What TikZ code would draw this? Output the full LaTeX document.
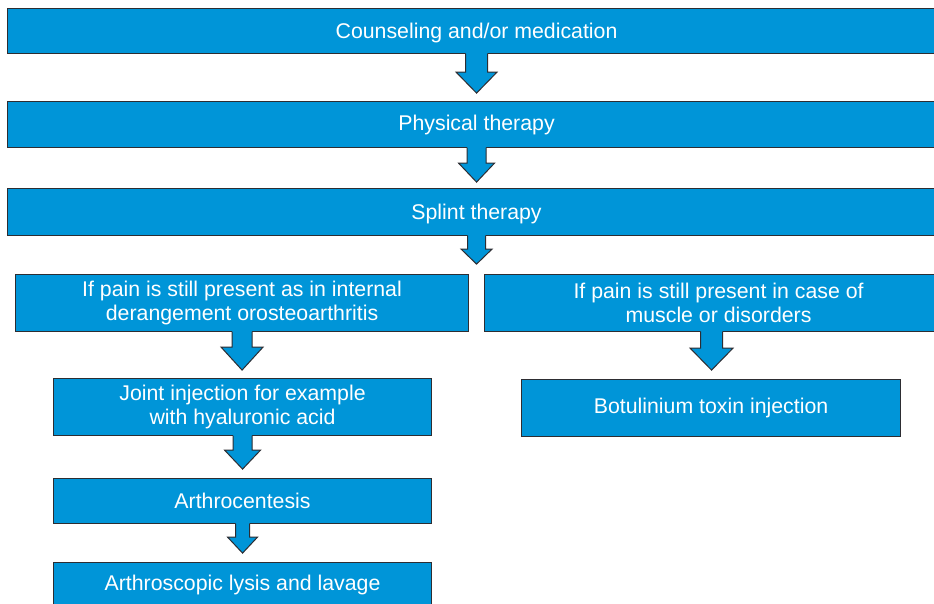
\documentclass[tikz,border=0pt]{standalone}
\usepackage{fontspec}
\setmainfont{Liberation Sans}
\usetikzlibrary{calc}
\definecolor{boxblue}{RGB}{0,149,216}
\definecolor{boxline}{RGB}{45,45,50}
\tikzset{
  flowbox/.style={rectangle, fill=boxblue, draw=boxline, line width=1.1pt,
    text=white, align=center, inner sep=0pt, anchor=north west,
    font=\fontsize{21.3}{24}\selectfont},
  arrowfill/.style={fill=boxblue},
  arrowline/.style={draw=boxline, line width=1pt, line join=miter},
}
% #1 start (node anchor), #2 shaft length, #3 head length, #4 shaft half width, #5 head half width
\newcommand{\blockarrow}[5]{%
  \begin{scope}[shift={(#1)}]
    \fill[arrowfill] (-#4,-1.5) -- (-#4,#2) -- (-#5,#2) -- (0,#2+#3) -- (#5,#2) -- (#4,#2) -- (#4,-1.5) -- cycle;
    \draw[arrowline] (-#4,-0.5) -- (-#4,#2) -- (-#5,#2) -- (0,#2+#3) -- (#5,#2) -- (#4,#2) -- (#4,-0.5);
  \end{scope}}
\begin{document}
\begin{tikzpicture}[x=1pt,y=-1pt]
\useasboundingbox (0,0) rectangle (934,604);
\clip (0,0) rectangle (934,604);
\fill[white] (0,0) rectangle (934,604);

\node[flowbox, minimum width=938pt, minimum height=45pt, text depth=-3pt] (b1) at (7,8) {Counseling and/or medication};
\node[flowbox, minimum width=938pt, minimum height=46pt] (b2) at (7,101) {Physical therapy};
\node[flowbox, minimum width=938pt, minimum height=47pt, text depth=-3pt] (b3) at (7,188) {Splint therapy};
\node[flowbox, minimum width=453pt, minimum height=57pt] (b4l) at (15,274) {If pain is still present as in internal\\derangement orosteoarthritis};
\node[flowbox, minimum width=468pt, minimum height=57pt] (b4r) at (484,274) {If pain is still present in case of\\muscle or disorders};
\node[flowbox, minimum width=378pt, minimum height=57pt] (b5l) at (53,378) {Joint injection for example\\with hyaluronic acid};
\node[flowbox, minimum width=379pt, minimum height=57pt] (b5r) at (521,379) {Botulinium toxin injection};
\node[flowbox, minimum width=378pt, minimum height=45pt] (b6) at (53,478) {Arthrocentesis};
\node[flowbox, minimum width=378pt, minimum height=45pt] (b7) at (53,562) {Arthroscopic lysis and lavage};

\blockarrow{b1.south}{18}{21}{11}{20.5}
\blockarrow{b2.south}{15}{19}{9.5}{18}
\blockarrow{b3.south}{13}{15}{9}{15.5}
\blockarrow{b4l.south}{15}{23}{10}{21}
\blockarrow{$(b4r.south)+(-7,0)$}{16}{22}{11}{21.5}
\blockarrow{b5l.south}{14}{19}{9.5}{18}
\blockarrow{b6.south}{13}{16}{7}{15}
\end{tikzpicture}
\end{document}
